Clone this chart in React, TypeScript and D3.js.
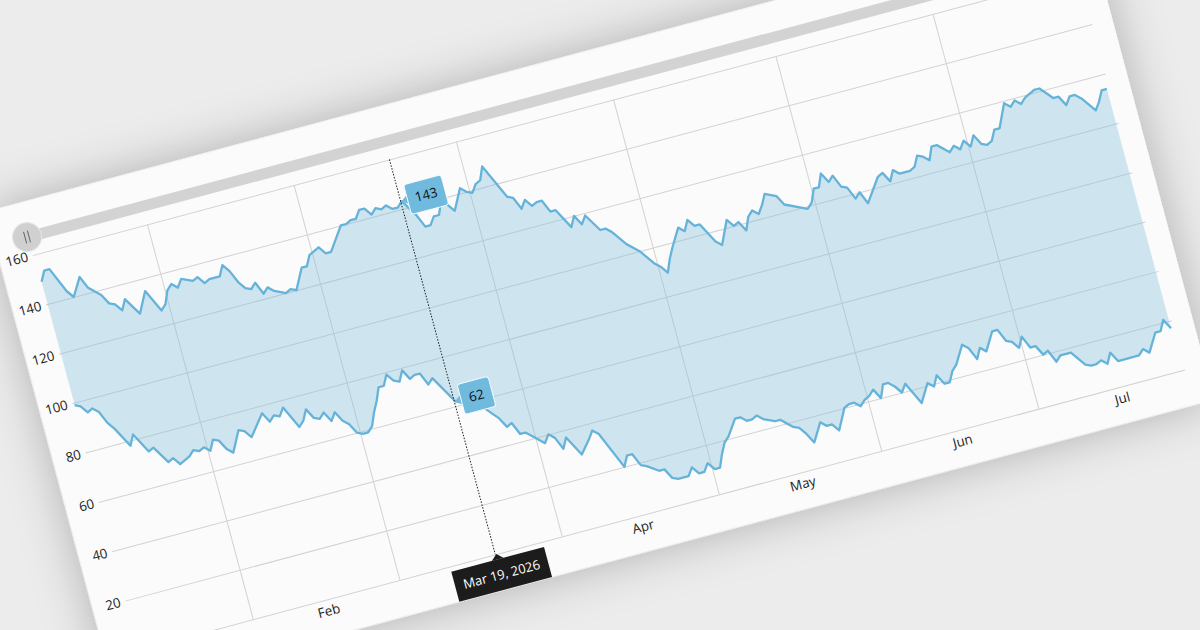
// App.tsx
import React, { useEffect, useRef } from 'react';
import * as d3 from 'd3';

// Upper series: days after the first sample, and the value on that day
const upperDays = [0, 1, 2, 4, 5, 7, 8, 10, 11, 12, 13, 14, 16, 18, 20, 21, 22, 23, 24, 25, 27, 28, 29, 30, 32, 33, 34, 35, 36, 37, 38, 39, 40, 41, 43, 44, 45, 47, 48, 49, 51, 52, 53, 56, 57, 58, 59, 60, 61, 62, 63, 64, 65, 66, 67, 68, 70, 71, 72, 73, 74, 75, 76, 77, 79, 80, 81, 82, 83, 84, 87, 88, 89, 90, 91, 92, 93, 94, 95, 97, 98, 99, 100, 102, 103, 104, 106, 108, 109, 110, 111, 112, 113, 114, 116, 117, 118, 119, 120, 122, 123, 125, 126, 127, 128, 129, 130, 131, 132, 133, 135, 136, 140, 141, 142, 143, 144, 145, 146, 147, 148, 149, 150, 151, 154, 155, 156, 157, 158, 160, 161, 162, 163, 164, 165, 166, 168, 169, 170, 171, 172, 173, 174, 175, 176, 177, 178, 180, 181, 182, 183, 184, 186, 187, 189, 190, 191, 192, 193, 194, 196, 197, 198, 199];
const upperValues = [149, 153, 153, 143, 140, 147, 142, 138, 134, 133, 130, 134, 127, 135, 126, 128, 133, 135, 133, 136, 134, 135, 132, 133, 133, 137, 134, 129, 126, 125, 127, 122, 124, 122, 120, 121, 120, 128, 128, 132, 134, 131, 131, 140, 140, 141, 141, 144, 144, 141, 143, 142, 143, 141, 141, 143, 136, 131, 131, 134, 134, 139, 137, 134, 142, 140, 139, 142, 143, 148, 134, 133, 128, 131, 128, 129, 129, 124, 124, 116, 120, 116, 119, 112, 112, 110, 104, 100, 97, 94, 92, 89, 94, 98, 105, 103, 107, 104, 104, 96, 94, 103, 100, 101, 97, 102, 104, 102, 105, 109, 107, 103, 99, 101, 106, 106, 111, 107, 109, 104, 103, 98, 100, 95, 104, 105, 101, 105, 103, 103, 104, 108, 107, 105, 110, 110, 106, 108, 106, 109, 106, 110, 106, 105, 106, 110, 110, 119, 117, 119, 117, 119, 121, 121, 116, 116, 112, 115, 115, 113, 107, 110, 114, 114];

// Lower series
const lowerDays = [0, 1, 2, 3, 4, 5, 6, 8, 9, 11, 12, 14, 15, 16, 18, 19, 20, 21, 22, 23, 24, 25, 26, 28, 29, 30, 33, 34, 35, 36, 37, 39, 40, 41, 42, 43, 44, 45, 46, 47, 48, 49, 50, 51, 52, 53, 54, 55, 56, 57, 58, 59, 60, 61, 62, 63, 64, 65, 68, 73, 75, 76, 77, 78, 79, 80, 82, 83, 84, 85, 86, 88, 90, 91, 92, 95, 96, 97, 98, 99, 101, 102, 103, 104, 106, 107, 108, 109, 110, 111, 112, 113, 114, 115, 116, 117, 118, 119, 120, 121, 122, 124, 125, 126, 127, 128, 129, 130, 132, 133, 134, 135, 137, 138, 139, 140, 141, 142, 143, 144, 145, 146, 147, 148, 149, 151, 153, 154, 155, 156, 157, 158, 159, 161, 162, 163, 164, 165, 167, 168, 169, 170, 171, 172, 173, 174, 175, 176, 177, 178, 180, 182, 183, 184, 185, 186, 187, 188, 192, 193, 194, 196, 197, 198, 199];
const lowerValues = [99, 98, 95, 96, 94, 89, 86, 78, 82, 74, 75, 68, 69, 66, 68, 70, 69, 70, 68, 72, 71, 67, 65, 73, 72, 69, 77, 73, 75, 74, 77, 68, 70, 74, 70, 69, 71, 67, 70, 66, 64, 60, 59, 59, 61, 66, 70, 75, 75, 79, 76, 75, 79, 75, 76, 76, 71, 73, 62, 56, 51, 47, 48, 43, 43, 41, 37, 40, 38, 33, 37, 29, 34, 37, 35, 20, 24, 24, 19, 18, 15, 15, 11, 10, 10, 13, 10, 10, 13, 10, 10, 15, 19, 21, 24, 27, 27, 25, 25, 26, 24, 22, 22, 20, 18, 17, 14, 10, 17, 15, 15, 12, 20, 21, 21, 19, 21, 22, 24, 20, 25, 25, 23, 20, 23, 14, 21, 19, 23, 19, 19, 23, 25, 32, 30, 25, 29, 27, 34, 34, 29, 28, 25, 29, 24, 24, 20, 21, 16, 18, 18, 12, 11, 11, 12, 10, 14, 10, 10, 12, 10, 17, 17, 21, 17];

const yTicks = [0, 20, 40, 60, 80, 100, 120, 140, 160];
const monthStarts = [1, 2, 3, 4, 5, 6]; // Feb .. Jul
const monthLabels = ['Feb', 'Mar', 'Apr', 'May', 'Jun', 'Jul'];
const crosshairDay = 68;
const crosshairHigh = 143;
const crosshairLow = 62;
const crosshairText = 'Mar 19, 2026';

const FONT = '"Open Sans", "Noto Sans", sans-serif';

// Samples sit at noon, so the month lines fall half a step before them
const dayToDate = (d: number) => new Date(2026, 0, 10 + d, 12);

const App = () => {
  const d3Container = useRef<SVGSVGElement>(null);

  useEffect(() => {
    if (!d3Container.current) return;
    drawChart(d3Container.current);
  }, []);

  const drawChart = (node: SVGSVGElement) => {
    const svgRoot = d3.select(node);
    svgRoot.selectAll('*').remove();

    const width = 1083.4;
    const height = 408.8;

    // Soft shadow round the tilted card
    const defs = svgRoot.append('defs');
    const filter = defs.append('filter').attr('id', 'cardShadow')
      .attr('x', '-15%').attr('y', '-40%').attr('width', '130%').attr('height', '180%');
    filter.append('feDropShadow')
      .attr('dx', 0).attr('dy', 0).attr('stdDeviation', 24)
      .attr('flood-color', '#000').attr('flood-opacity', 0.26);

    svgRoot.append('rect').attr('width', 1200).attr('height', 630).attr('fill', '#ececec');

    // Everything is laid out flat with y = 0 on the axis, then tilted
    const svg = svgRoot.append('g').attr('transform', 'translate(138.4,650) rotate(-15)');

    svg.append('rect')
      .attr('x', -33.6).attr('y', -462.7)
      .attr('width', 1137.6).attr('height', 499.2)
      .attr('fill', '#fbfbfb')
      .attr('filter', 'url(#cardShadow)');

    const x = d3.scaleTime()
      .domain([dayToDate(0), dayToDate(199)])
      .range([1.8, 1080.7]);
    const y = d3.scaleLinear().domain([0, 160]).range([0, -height]);

    // Range slider along the top
    svg.append('rect')
      .attr('x', 0).attr('y', -433).attr('width', width).attr('height', 11)
      .attr('fill', '#d3d3d3');

    // Horizontal grid and value labels (the 0 label falls off the page)
    const yAxis = svg.append('g')
      .call(d3.axisLeft(y).tickValues(yTicks).tickSize(-width).tickPadding(5)
        .tickFormat(d => (+d === 0 ? '' : String(d))));
    yAxis.select('.domain').remove();
    yAxis.selectAll('line').attr('stroke', '#d2d2d2');
    yAxis.selectAll('text')
      .attr('font-family', FONT).attr('font-size', 13.3).attr('fill', '#222');

    // Vertical grid at the month starts
    const monthDates = monthStarts.map(m => new Date(2026, m, 1));
    const xGrid = svg.append('g')
      .call(d3.axisBottom(x).tickValues(monthDates).tickSize(-height).tickFormat(() => ''));
    xGrid.select('.domain').remove();
    xGrid.selectAll('line').attr('stroke', '#d2d2d2');

    // Month names centred in their month
    svg.append('g').selectAll('text')
      .data(monthLabels)
      .join('text')
      .attr('x', (_, i) => (x(new Date(2026, monthStarts[i], 1)) + x(new Date(2026, monthStarts[i] + 1, 1))) / 2)
      .attr('y', 11.5)
      .attr('dy', '0.35em')
      .attr('text-anchor', 'middle')
      .attr('font-family', FONT).attr('font-size', 13.3).attr('fill', '#222')
      .text(d => d);

    // Band between the two series
    const line = d3.line<[number, number]>()
      .x(d => x(dayToDate(d[0])))
      .y(d => y(d[1]));
    const upper = upperDays.map((d, i) => [d, upperValues[i]] as [number, number]);
    const lower = lowerDays.map((d, i) => [d, lowerValues[i]] as [number, number]);

    svg.append('path')
      .attr('d', line([...upper, ...lower.slice().reverse()]) + 'Z')
      .attr('fill', '#7fc0de')
      .attr('fill-opacity', 0.36);
    [upper, lower].forEach(series => {
      svg.append('path')
        .attr('d', line(series))
        .attr('fill', 'none')
        .attr('stroke', '#66b3d9')
        .attr('stroke-width', 2.3)
        .attr('stroke-linejoin', 'round');
    });

    // Crosshair
    const cx = x(dayToDate(crosshairDay));
    svg.append('line')
      .attr('x1', cx - 1).attr('x2', cx - 1)
      .attr('y1', y(160)).attr('y2', 0)
      .attr('stroke', '#222').attr('stroke-dasharray', '1.5,1.5');

    // Value tags next to the crosshair
    const tag = (value: number, w: number) => {
      const py = y(value);
      const left = cx + 6;
      svg.append('path')
        .attr('d', d3.line()([[cx, py], [left + 0.5, py - 5], [left + 0.5, py + 5]]) + 'Z')
        .attr('fill', '#70bade');
      svg.append('rect')
        .attr('x', left).attr('y', py - 15.5)
        .attr('width', w).attr('height', 31).attr('rx', 3)
        .attr('fill', '#70bade').attr('stroke', '#f4fafd');
      svg.append('text')
        .attr('x', left + w / 2).attr('y', py)
        .attr('dy', '0.35em').attr('text-anchor', 'middle')
        .attr('font-family', FONT).attr('font-size', 13.3).attr('fill', '#111')
        .text(value);
    };
    tag(crosshairHigh, 38.6);
    tag(crosshairLow, 32);

    // Date box under the axis
    const boxW = 96;
    svg.append('path')
      .attr('d', d3.line()([[cx - 6, 5.4], [cx, 0], [cx + 6, 5.4]]) + 'Z')
      .attr('fill', '#1c1c1c');
    svg.append('rect')
      .attr('x', cx - boxW / 2).attr('y', 5.4)
      .attr('width', boxW).attr('height', 31.1)
      .attr('fill', '#1c1c1c');
    svg.append('text')
      .attr('x', cx).attr('y', 21)
      .attr('dy', '0.35em').attr('text-anchor', 'middle')
      .attr('font-family', FONT).attr('font-size', 13).attr('fill', '#fff')
      .text(crosshairText);

    // Slider handle with its two grip strokes
    svg.append('circle')
      .attr('cx', -0.7).attr('cy', -427.7).attr('r', 14.5)
      .attr('fill', '#d0d0d0').attr('stroke', '#e6e6e6');
    svg.selectAll('.grip')
      .data([-2.7, 1.3])
      .join('line')
      .attr('class', 'grip')
      .attr('x1', d => d).attr('x2', d => d)
      .attr('y1', -433.7).attr('y2', -421.7)
      .attr('stroke', '#666').attr('stroke-width', 1);
  };

  return (
    <svg ref={d3Container} width={1200} height={630}
      style={{ position: 'fixed', left: 0, top: 0, display: 'block' }} />
  );
};

export default App;
